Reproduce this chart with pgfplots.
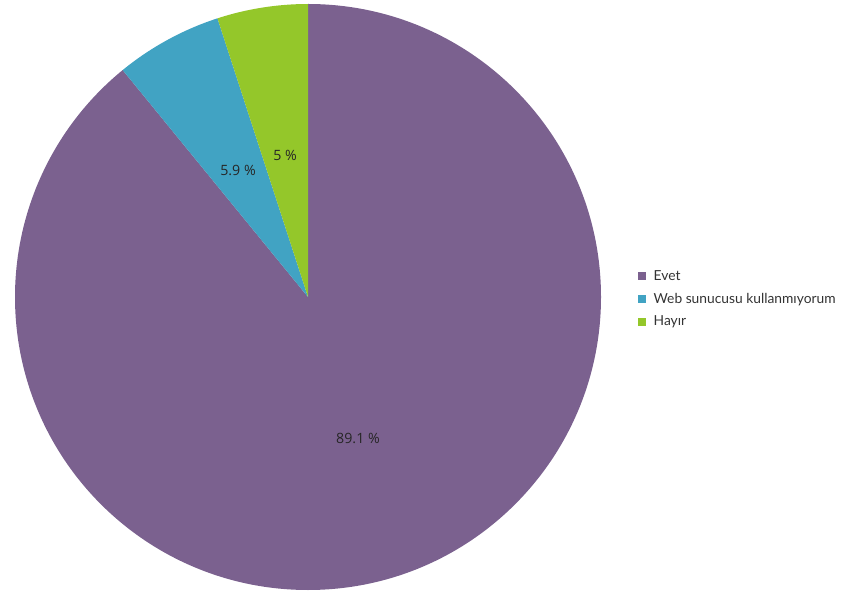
\documentclass[border=0pt]{standalone}
\usepackage{pgfplots}
\pgfplotsset{compat=1.18}
\usepackage{fontspec}
\setmainfont{Lato}
\newfontfamily\labfont{Open Sans}
\definecolor{cevet}{HTML}{7B618F}
\definecolor{cweb}{HTML}{41A3C3}
\definecolor{chayir}{HTML}{94C72A}
\definecolor{ctext}{HTML}{333333}
\begin{document}
\begin{tikzpicture}
\pgfmathsetmacro\vA{89.1}
\pgfmathsetmacro\vB{5.9}
\pgfmathsetmacro\vC{5.0}
\pgfmathsetmacro\aA{90-\vA*3.6}
\pgfmathsetmacro\aB{\aA-\vB*3.6}
\pgfmathsetmacro\aC{\aB-\vC*3.6}
\begin{axis}[
  width=851pt, height=600pt, scale only axis,
  xmin=0, xmax=851, ymin=0, ymax=600,
  hide axis, clip=false,
  legend style={at={(axis cs:638,301)}, anchor=west, draw=none, fill=none,
    font=\fontsize{13.8}{16}\selectfont\color{ctext},
    row sep=9pt, inner sep=0pt,
    nodes={inner sep=1pt},
    /tikz/every odd column/.append style={column sep=6.5pt}},
  legend cell align=left,
  legend image code/.code={\fill[#1,draw=none] (0pt,-4pt) rectangle (8pt,4pt);},
]
\path (axis cs:0,0) rectangle (axis cs:851,600);
\fill[cevet] (axis cs:308,303) -- ++(90:293pt) arc[start angle=90, end angle=\aA, radius=293pt] -- cycle;
\fill[cweb] (axis cs:308,303) -- ++(\aA:293pt) arc[start angle=\aA, end angle=\aB, radius=293pt] -- cycle;
\fill[chayir] (axis cs:308,303) -- ++(\aB:293pt) arc[start angle=\aB, end angle=\aC, radius=293pt] -- cycle;
\addlegendimage{fill=cevet,draw=none}
\addlegendentry{Evet}
\addlegendimage{fill=cweb,draw=none}
\addlegendentry{Web sunucusu kullanmıyorum}
\addlegendimage{fill=chayir,draw=none}
\addlegendentry{Hayır}
\node[font=\labfont\fontsize{14.2}{16}\selectfont, text=black!85] at (axis cs:358,162) {89.1 \%};
\node[font=\labfont\fontsize{14.2}{16}\selectfont, text=black!85] at (axis cs:238,430) {5.9 \%};
\node[font=\labfont\fontsize{14.2}{16}\selectfont, text=black!85] at (axis cs:285,445) {5 \%};
\end{axis}
\end{tikzpicture}
\end{document}
